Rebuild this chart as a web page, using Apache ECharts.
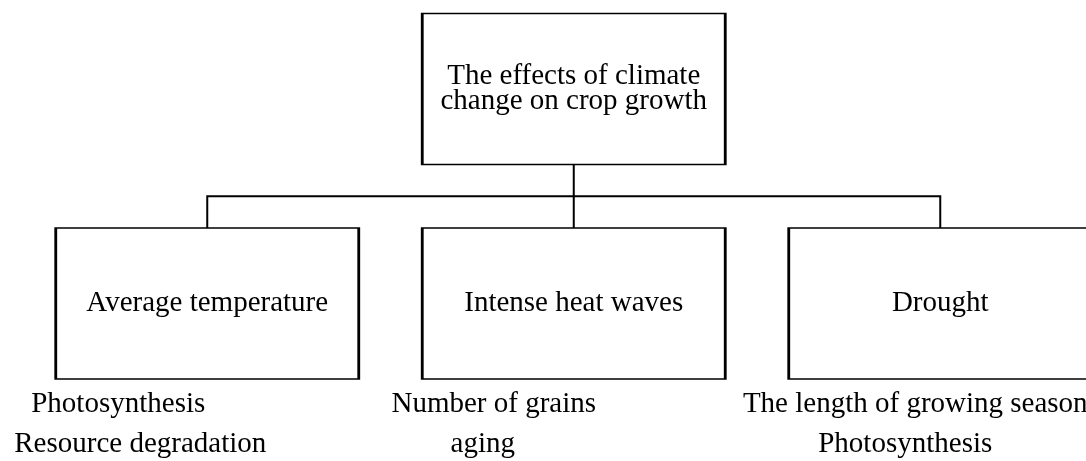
<!DOCTYPE html>
<html>
<head>
<meta charset="utf-8">
<script src="https://cdn.jsdelivr.net/npm/echarts@6/dist/echarts.min.js"></script>
<style>
  html, body { margin: 0; padding: 0; background: #fff; }
  #main { width: 1086px; height: 461px; }
</style>
</head>
<body>
<div id="main"></div>
<script>
var rootName = 'The effects of climate\nchange on crop growth';
var factors = ['Average temperature', 'Intense heat waves', 'Drought'];
var impacts = [
    ['Photosynthesis', 'Resource degradation'],
    ['Number of grains', 'aging'],
    ['The length of growing season', 'Photosynthesis']
];
// horizontal shift (px) of each impact line from the centre of its box
var impactShift = [[-89, -67], [-80, -91], [-25, -35]];

var font = 'Liberation Serif';

function impactLabel(i) {
    var rich = {};
    var lines = impacts[i].map(function (t, j) {
        var s = impactShift[i][j];
        rich['l' + j] = {
            fontFamily: font,
            fontSize: 29,
            color: '#000',
            lineHeight: 40,
            padding: [0, s < 0 ? -2 * s : 0, 0, s > 0 ? 2 * s : 0]
        };
        return '{l' + j + '|' + t + '}';
    });
    return {
        show: true,
        position: 'bottom',
        distance: 5,
        formatter: lines.join('\n'),
        rich: rich
    };
}

function buildTree(withImpacts) {
    return [{
        name: rootName,
        children: factors.map(function (f, i) {
            var node = { name: f };
            if (withImpacts) node.label = impactLabel(i);
            return node;
        })
    }];
}

var chartDom = document.getElementById('main');
var myChart = echarts.init(chartDom);

var common = {
    type: 'tree',
    orient: 'TB',
    layout: 'orthogonal',
    left: 24,
    top: 89,
    width: 1099.5,
    height: 214.5,
    symbol: 'rect',
    symbolSize: [303, 151],
    edgeShape: 'polyline',
    edgeForkPosition: '50%',
    expandAndCollapse: false,
    roam: false,
    silent: true
};

var boxLabel = {
    show: true,
    position: 'inside',
    fontFamily: font,
    fontSize: 29,
    lineHeight: 25,
    color: '#000'
};

var option = {
    animation: false,
    backgroundColor: '#fff',
    series: [
        Object.assign({}, common, {
            // connectors + impact notes under the boxes
            z: 1,
            data: buildTree(true),
            itemStyle: { color: 'transparent', borderWidth: 0 },
            lineStyle: { color: '#000', width: 2, curveness: 0 },
            label: { show: false },
            leaves: { label: { show: true } }
        }),
        Object.assign({}, common, {
            // boxes
            z: 2,
            data: buildTree(false),
            itemStyle: { color: '#fff', borderColor: '#000', borderWidth: 2 },
            lineStyle: { width: 0, opacity: 0 },
            label: boxLabel,
            leaves: { label: boxLabel }
        })
    ]
};

option && myChart.setOption(option);
</script>
</body>
</html>
